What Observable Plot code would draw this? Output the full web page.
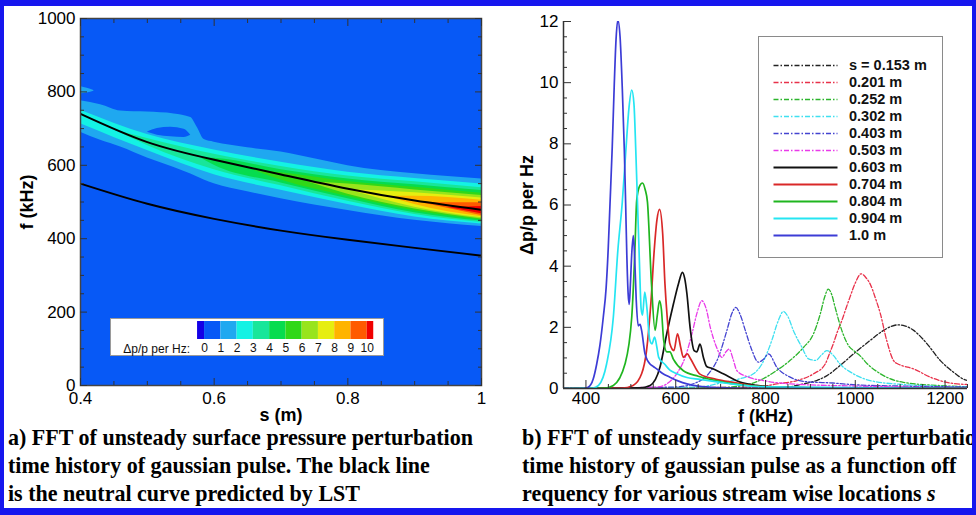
<!DOCTYPE html>
<html><head><meta charset="utf-8">
<script src="https://cdn.jsdelivr.net/npm/d3@7"></script>
<script src="https://cdn.jsdelivr.net/npm/@observablehq/plot@0.6"></script>
<style>
body{margin:0;background:#fff;}
#wrap{position:relative;width:976px;height:515px;overflow:hidden;background:#fff;font-family:"Liberation Sans",Arial,sans-serif;}
.abs{position:absolute;}
#border{position:absolute;left:0;top:0;width:976px;height:515px;box-sizing:border-box;border-style:solid;border-color:#1616ee;border-width:6px 4px 7px 4px;pointer-events:none;}
.cap{position:absolute;font-family:"Liberation Serif","Times New Roman",serif;font-weight:bold;font-size:23px;line-height:28px;white-space:nowrap;color:#000;transform-origin:0 0;}
.cap div{white-space:nowrap;}
svg{overflow:visible;}
</style>
</head><body>
<div id="wrap">
  <div id="left" class="abs" style="left:0;top:0"></div>
  <div id="right" class="abs" style="left:490px;top:0"></div>
  <div id="cbar" class="abs" style="left:110px;top:318px;width:272px;height:36px;border:1px solid #9a9a9a;background:#fff"></div>
  <div id="cblabel" class="abs" style="left:90px;top:341px;width:100px;text-align:right;font-size:12px;line-height:16px;color:#111">Δp/p per Hz:</div>
  <div id="legend" class="abs" style="left:758px;top:36px;width:183px;height:220px;border:1.5px solid #8a8a8a;background:#fff"></div>
  <div id="capA" class="cap" style="left:8px;top:424px">
    <div><span id="capA1">a) FFT of unsteady surface pressure perturbation</span></div>
    <div>time history of gaussian pulse. The black line</div>
    <div>is the neutral curve predicted by LST</div>
  </div>
  <div id="capB" class="cap" style="left:522px;top:424px">
    <div>b) FFT of unsteady surface pressure perturbation</div>
    <div>time history of gaussian pulse as a function off</div>
    <div>requency for various stream wise locations <i>s</i></div>
  </div>
  <div id="border"></div>
</div>
<script>
// ---------------- Left panel data ----------------
const S_TICKS = [0.4, 0.6, 0.8, 1];
const S_MINOR = [0.45, 0.5, 0.55, 0.65, 0.7, 0.75, 0.85, 0.9, 0.95];
const F_TICKS = [0, 200, 400, 600, 800, 1000];
const F_MINOR = [50, 100, 150, 250, 300, 350, 450, 500, 550, 650, 700, 750, 850, 900, 950];

const neutralS = [0.4, 0.5, 0.6, 0.7, 0.8, 0.9, 1.0];
const neutralUpperF = [740, 663, 615, 575, 536, 504, 479];
const neutralLowerF = [550, 495, 454, 422, 397, 375, 354];

const levelThresholds = [0, 1, 2, 3, 4, 5, 6, 7, 8, 9, 10];
const levelColors = ["#1400e6", "#0759f6", "#1fa8f0", "#14f2e4", "#18e69a", "#06dc4e", "#30d818", "#98e41c", "#e6ee10", "#ffb400", "#ff5a00", "#f00000"];

// contour bands (lower / upper edge of each level, kHz) read along s
const lev1S  = [0.4, 0.43, 0.46, 0.5, 0.54, 0.565, 0.575, 0.585, 0.6, 0.65, 0.7, 0.75, 0.8, 0.9, 1.0];
const lev1Hi = [776, 765, 748, 745, 740, 730, 702, 670, 663, 648, 636, 618, 599, 577, 563];
const lev1Lo = [690, 668, 650, 620, 594, 576, 568, 560, 550, 528, 509, 492, 477, 450, 433];
const holeS  = [0.5, 0.515, 0.535, 0.555, 0.565];
const holeHi = [690, 700, 704, 698, 682];
const holeLo = [690, 682, 678, 676, 682];
const blobS  = [0.4, 0.41, 0.42];
const blobHi = [815, 810, 804];
const blobLo = [795, 797, 802];
const lev2S  = [0.4, 0.5, 0.6, 0.7, 0.8, 0.9, 1.0];
const lev2Hi = [750, 684, 642, 608, 581, 564, 549];
const lev2Lo = [713, 640, 574, 532, 493, 459, 440];
const lev3S  = [0.45, 0.5, 0.6, 0.7, 0.8, 0.9, 1.0];
const lev3Hi = [697, 673, 630, 597, 571, 555, 539];
const lev3Lo = [697, 654, 588, 544, 502, 466, 444];
const lev4S  = [0.58, 0.6, 0.7, 0.8, 0.9, 1.0];
const lev4Hi = [620, 619, 588, 563, 547, 531];
const lev4Lo = [620, 600, 552, 509, 471, 448];
const lev5S  = [0.66, 0.7, 0.8, 0.9, 1.0];
const lev5Hi = [586, 580, 556, 540, 524];
const lev5Lo = [586, 560, 515, 476, 451];
const lev6S  = [0.74, 0.8, 0.9, 1.0];
const lev6Hi = [555, 549, 533, 518];
const lev6Lo = [555, 521, 481, 454];
const lev7S  = [0.8, 0.9, 1.0];
const lev7Hi = [534, 525, 511];
const lev7Lo = [534, 486, 457];
const lev8S  = [0.86, 0.9, 1.0];
const lev8Hi = [515, 516, 505];
const lev8Lo = [515, 493, 460];
const lev9S  = [0.91, 1.0];
const lev9Hi = [498, 498];
const lev9Lo = [498, 463];
const lev10S  = [0.95, 1.0];
const lev10Hi = [485, 488];
const lev10Lo = [485, 468];

// colour bar segments
const cbarLo = [-0.43, 0, 1, 2, 3, 4, 5, 6, 7, 8, 9, 10];
const cbarHi = [0, 1, 2, 3, 4, 5, 6, 7, 8, 9, 10, 10.4];
const CBAR_TICKS = [0, 1, 2, 3, 4, 5, 6, 7, 8, 9, 10];

// ---------------- Right panel data ----------------
const FK_TICKS = [400, 600, 800, 1000, 1200];
const FK_MINOR = [350, 450, 500, 550, 650, 700, 750, 850, 900, 950, 1050, 1100, 1150, 1250];
const A_TICKS = [0, 2, 4, 6, 8, 10, 12];
const A_MINOR = [0.5, 1, 1.5, 2.5, 3, 3.5, 4.5, 5, 5.5, 6.5, 7, 7.5, 8.5, 9, 9.5, 10.5, 11, 11.5];

const seriesLabels = ["s = 0.153 m", "0.201 m", "0.252 m", "0.302 m", "0.403 m", "0.503 m", "0.603 m", "0.704 m", "0.804 m", "0.904 m", "1.0 m"];
const seriesColors = ["#222222", "#e8314a", "#2cb52c", "#3fe0f0", "#4343d0", "#e93ae9", "#111111", "#d92828", "#1fb51f", "#25e5f2", "#3c3cd6"];
const seriesDashed = [true, true, true, true, true, true, false, false, false, false, false];

const s0153_f = [350, 800, 850, 870, 890, 914, 937, 966, 996, 1033, 1063, 1080, 1094, 1110, 1130, 1160, 1189, 1219, 1245, 1250];
const s0153_v = [0, 0.02, 0.05, 0.1, 0.17, 0.26, 0.42, 0.75, 1.13, 1.57, 1.9, 2.03, 2.08, 2.05, 1.9, 1.46, 0.92, 0.53, 0.28, 0.26];
const s0201_f = [350, 780, 825, 870, 907, 933, 944, 951, 960, 970, 980, 988, 1000, 1013, 1025, 1033, 1045, 1056, 1070, 1085, 1095, 1104, 1130, 1167, 1204, 1250];
const s0201_v = [0, 0.05, 0.15, 0.26, 0.48, 0.8, 1.2, 1.46, 1.85, 2.22, 2.65, 2.98, 3.45, 3.75, 3.6, 3.42, 2.95, 2.44, 1.57, 0.92, 0.8, 0.75, 0.64, 0.37, 0.2, 0.13];
const s0252_f = [350, 700, 766, 795, 825, 855, 885, 907, 922, 932, 940, 948, 955, 970, 985, 1000, 1012, 1026, 1056, 1107, 1182, 1250];
const s0252_v = [0, 0.03, 0.15, 0.32, 0.59, 0.92, 1.35, 1.79, 2.44, 3.0, 3.25, 3.05, 2.66, 1.9, 1.4, 1.2, 1.05, 0.82, 0.48, 0.2, 0.1, 0.06];
const s0302_f = [350, 650, 706, 743, 773, 792, 814, 828, 840, 850, 862, 881, 896, 912, 925, 937, 950, 966, 996, 1033, 1107, 1250];
const s0302_v = [0, 0.05, 0.2, 0.32, 0.48, 0.8, 1.57, 2.2, 2.52, 2.35, 1.9, 1.35, 0.97, 0.92, 1.1, 1.24, 1.1, 0.8, 0.48, 0.26, 0.13, 0.05];
const s0403_f = [350, 600, 647, 673, 695, 714, 725, 734, 744, 755, 770, 784, 795, 807, 825, 855, 892, 950, 1000, 1100, 1250];
const s0403_v = [0, 0.05, 0.2, 0.48, 1.02, 1.9, 2.45, 2.65, 2.4, 1.9, 1.24, 0.86, 0.95, 1.13, 0.7, 0.37, 0.22, 0.18, 0.12, 0.08, 0.05];
const s0503_f = [350, 560, 580, 602, 621, 636, 648, 658, 668, 677, 691, 703, 712, 719, 728, 736, 762, 795, 855, 1000, 1100, 1250];
const s0503_v = [0, 0.05, 0.15, 0.48, 1.02, 1.78, 2.5, 2.87, 2.6, 2.0, 1.35, 1.02, 1.2, 1.29, 0.95, 0.59, 0.37, 0.26, 0.15, 0.08, 0.05, 0.03];
const s0603_f = [350, 520, 543, 565, 580, 595, 606, 615, 620, 625, 632, 641, 647, 654, 662, 669, 680, 706, 743, 780, 817, 900, 1250];
const s0603_v = [0, 0.02, 0.1, 0.7, 1.79, 2.77, 3.42, 3.8, 3.6, 3.09, 2.0, 1.24, 1.2, 1.45, 1.0, 0.72, 0.66, 0.48, 0.21, 0.1, 0.05, 0.02, 0];
const s0704_f = [350, 480, 505, 524, 535, 545, 552, 558, 564, 571, 576, 581, 587, 596, 604, 611, 617, 626, 632, 654, 690, 728, 802, 900, 1250];
const s0704_v = [0, 0.01, 0.1, 0.48, 1.24, 2.87, 4.5, 5.5, 5.86, 5.05, 3.42, 2.33, 1.46, 1.24, 1.79, 1.35, 1.02, 1.13, 1.0, 0.47, 0.3, 0.2, 0.05, 0.02, 0];
const s0804_f = [350, 440, 461, 487, 502, 509, 513, 519, 526, 532, 537, 546, 554, 559, 564, 568, 573, 580, 587, 595, 617, 650, 691, 766, 850, 1250];
const s0804_v = [0, 0.01, 0.1, 0.8, 2.33, 4.5, 6.14, 6.6, 6.72, 6.5, 6.1, 3.42, 1.9, 2.4, 2.87, 2.6, 1.6, 1.2, 1.2, 0.95, 0.58, 0.4, 0.25, 0.09, 0.03, 0];
const s0904_f = [350, 415, 428, 446, 461, 471, 481, 489, 496, 502, 507, 511, 515, 519, 523, 526, 531, 536, 542, 547, 553, 558, 562, 575, 587, 600, 625, 654, 700, 728, 800, 1250];
const s0904_v = [0, 0.01, 0.1, 0.8, 2.33, 4.5, 6.1, 7.8, 9.2, 9.76, 9.3, 7.8, 6.0, 4.2, 2.6, 2.4, 3.15, 2.6, 1.6, 1.46, 1.68, 1.35, 1.02, 0.8, 0.6, 0.5, 0.36, 0.3, 0.2, 0.14, 0.05, 0];
const s1000_f = [350, 395, 405, 416, 424, 431, 438.6, 445, 449.7, 453.5, 458.6, 463, 467, 471, 476, 481, 485.5, 488.5, 491, 494, 496.5, 499, 502, 505.5, 508.5, 512, 516.5, 520.5, 524, 531.5, 537, 542.7, 550, 557.6, 570, 587, 605, 625, 650, 700, 800, 1250];
const s1000_v = [0, 0, 0.04, 0.3, 0.8, 1.4, 2.33, 3.3, 4.6, 6.0, 7.9, 9.9, 11.4, 12.05, 11.5, 9.8, 7.8, 6.0, 4.4, 3.1, 2.75, 3.4, 4.4, 5.0, 4.3, 2.9, 2.05, 2.1, 1.9, 1.14, 0.92, 0.8, 0.72, 0.64, 0.5, 0.37, 0.25, 0.15, 0.08, 0.03, 0, 0];

const seriesF = [s0153_f, s0201_f, s0252_f, s0302_f, s0403_f, s0503_f, s0603_f, s0704_f, s0804_f, s0904_f, s1000_f];
const seriesV = [s0153_v, s0201_v, s0252_v, s0302_v, s0403_v, s0503_v, s0603_v, s0704_v, s0804_v, s0904_v, s1000_v];

// ---------------- build tables ----------------
const bandDefs = [
  {key: "L1", level: 1, s: lev1S, lo: lev1Lo, hi: lev1Hi},
  {key: "hole", level: 0, s: holeS, lo: holeLo, hi: holeHi},
  {key: "blob", level: 1, s: blobS, lo: blobLo, hi: blobHi},
  {key: "L2", level: 2, s: lev2S, lo: lev2Lo, hi: lev2Hi},
  {key: "L3", level: 3, s: lev3S, lo: lev3Lo, hi: lev3Hi},
  {key: "L4", level: 4, s: lev4S, lo: lev4Lo, hi: lev4Hi},
  {key: "L5", level: 5, s: lev5S, lo: lev5Lo, hi: lev5Hi},
  {key: "L6", level: 6, s: lev6S, lo: lev6Lo, hi: lev6Hi},
  {key: "L7", level: 7, s: lev7S, lo: lev7Lo, hi: lev7Hi},
  {key: "L8", level: 8, s: lev8S, lo: lev8Lo, hi: lev8Hi},
  {key: "L9", level: 9, s: lev9S, lo: lev9Lo, hi: lev9Hi},
  {key: "L10", level: 10, s: lev10S, lo: lev10Lo, hi: lev10Hi}
];
const bandRows = bandDefs.flatMap(b => b.s.map((s, i) => ({key: b.key, level: b.level, s, lo: b.lo[i], hi: b.hi[i]})));
const neutralRows = neutralS.flatMap((s, i) => [
  {curve: "upper", s, f: neutralUpperF[i]},
  {curve: "lower", s, f: neutralLowerF[i]}
]);
const cbarRows = cbarLo.map((lo, i) => ({lo, hi: cbarHi[i], color: levelColors[i]}));

const specRows = seriesLabels.flatMap((label, k) => seriesF[k].map((f, i) => ({label, dashed: seriesDashed[k], f, v: seriesV[k][i]})));

const FONT = '"Liberation Sans", Arial, Helvetica, sans-serif';
const fmt = d => String(d);
const DASH = "5,2,1.5,2";

// ---------------- left plot ----------------
const leftPlot = Plot.plot({
  width: 490, height: 425,
  marginLeft: 80, marginRight: 9, marginTop: 18, marginBottom: 40,
  x: {domain: [0.4, 1.0]},
  y: {domain: [0, 1000]},
  color: {type: "threshold", domain: levelThresholds, range: levelColors},
  style: {fontFamily: FONT, fontSize: "17px", color: "#000", background: "transparent"},
  marks: [
    Plot.frame({fill: levelColors[1]}),
    Plot.areaY(bandRows, {x: "s", y1: "lo", y2: "hi", z: "key", fill: "level", curve: "monotone-x", clip: true}),
    Plot.line(neutralRows, {x: "s", y: "f", z: "curve", stroke: "#000", strokeWidth: 2, curve: "natural", clip: true}),
    Plot.frame({stroke: "#444", strokeWidth: 1.5}),
    Plot.axisX(S_TICKS, {anchor: "bottom", tickSize: 0, tickPadding: 6, tickFormat: fmt, label: null}),
    Plot.axisX(S_TICKS, {anchor: "bottom", tickSize: -7, fill: "none", stroke: "#333", label: null}),
    Plot.axisX(S_MINOR, {anchor: "bottom", tickSize: -4, fill: "none", stroke: "#333", label: null}),
    Plot.axisX(S_TICKS, {anchor: "top", tickSize: -7, fill: "none", stroke: "#333", label: null}),
    Plot.axisX(S_MINOR, {anchor: "top", tickSize: -4, fill: "none", stroke: "#333", label: null}),
    Plot.axisY(F_TICKS, {anchor: "left", tickSize: 0, tickPadding: 5, tickFormat: fmt, label: null}),
    Plot.axisY(F_TICKS, {anchor: "left", tickSize: -7, fill: "none", stroke: "#333", label: null}),
    Plot.axisY(F_MINOR, {anchor: "left", tickSize: -4, fill: "none", stroke: "#333", label: null}),
    Plot.axisY(F_TICKS, {anchor: "right", tickSize: -7, fill: "none", stroke: "#333", label: null}),
    Plot.axisY(F_MINOR, {anchor: "right", tickSize: -4, fill: "none", stroke: "#333", label: null}),
    Plot.text(["f (kHz)"], {frameAnchor: "left", dx: -53, rotate: -90, textAnchor: "middle", lineAnchor: "middle", fontWeight: "bold", fontSize: 18}),
    Plot.text(["s (m)"], {frameAnchor: "bottom", dy: 30, textAnchor: "middle", lineAnchor: "middle", fontWeight: "bold", fontSize: 18})
  ]
});
document.getElementById("left").appendChild(leftPlot);

// ---------------- colour bar ----------------
const cbarPlot = Plot.plot({
  width: 272, height: 36,
  marginLeft: 0, marginRight: 0, marginTop: 2, marginBottom: 16,
  x: {domain: [-5.72, 11.0]},
  style: {fontFamily: FONT, fontSize: "12px", color: "#111", background: "transparent"},
  marks: [
    Plot.rect(cbarRows, {x1: "lo", x2: "hi", fill: d => d.color}),
    Plot.axisX(CBAR_TICKS, {anchor: "bottom", tickSize: 0, tickPadding: 4, tickFormat: fmt, label: null})
  ]
});
document.getElementById("cbar").appendChild(cbarPlot);

// ---------------- right plot ----------------
const rightPlot = Plot.plot({
  width: 486, height: 425,
  marginLeft: 73, marginRight: 9, marginTop: 21, marginBottom: 37,
  x: {domain: [350, 1250]},
  y: {domain: [0, 12]},
  color: {domain: seriesLabels, range: seriesColors},
  style: {fontFamily: FONT, fontSize: "17px", color: "#000", background: "transparent"},
  marks: [
    Plot.line(specRows.filter(d => d.dashed), {x: "f", y: "v", z: "label", stroke: "label", strokeWidth: 1.3, strokeDasharray: DASH, curve: "monotone-x", clip: true}),
    Plot.line(specRows.filter(d => !d.dashed), {x: "f", y: "v", z: "label", stroke: "label", strokeWidth: 1.7, curve: "monotone-x", clip: true}),
    Plot.ruleY([0], {stroke: "#333", strokeWidth: 1.5}),
    Plot.ruleX([350], {stroke: "#333", strokeWidth: 1.5}),
    Plot.axisX(FK_TICKS, {anchor: "bottom", tickSize: 0, tickPadding: 3, tickFormat: fmt, label: null}),
    Plot.axisX(FK_TICKS, {anchor: "bottom", tickSize: -8, fill: "none", stroke: "#333", label: null}),
    Plot.axisX(FK_MINOR, {anchor: "bottom", tickSize: -4, fill: "none", stroke: "#333", label: null}),
    Plot.axisY(A_TICKS, {anchor: "left", tickSize: 0, tickPadding: 5, tickFormat: fmt, label: null}),
    Plot.axisY(A_TICKS, {anchor: "left", tickSize: -8, fill: "none", stroke: "#333", label: null}),
    Plot.axisY(A_MINOR, {anchor: "left", tickSize: -4, fill: "none", stroke: "#333", label: null}),
    Plot.text(["Δp/p per Hz"], {frameAnchor: "left", dx: -36, rotate: -90, textAnchor: "middle", lineAnchor: "middle", fontWeight: "bold", fontSize: 18}),
    Plot.text(["f (kHz)"], {frameAnchor: "bottom", dy: 28, textAnchor: "middle", lineAnchor: "middle", fontWeight: "bold", fontSize: 18})
  ]
});
document.getElementById("right").appendChild(rightPlot);

// ---------------- legend ----------------
const legendPlot = Plot.plot({
  width: 183, height: 220, margin: 0,
  x: {domain: [0, 1], range: [14.5, 78.5], axis: null},
  y: {type: "point", domain: seriesLabels, range: [26.5, 199.5], padding: 0, axis: null},
  color: {domain: seriesLabels, range: seriesColors},
  style: {fontFamily: FONT, fontSize: "14px", color: "#111", background: "transparent"},
  marks: [
    Plot.ruleY(seriesLabels.filter((d, i) => seriesDashed[i]), {y: d => d, x1: 0, x2: 1, stroke: d => d, strokeWidth: 1.3, strokeDasharray: DASH}),
    Plot.ruleY(seriesLabels.filter((d, i) => !seriesDashed[i]), {y: d => d, x1: 0, x2: 1, stroke: d => d, strokeWidth: 1.8}),
    Plot.text(seriesLabels, {y: d => d, x: 1, dx: 11, textAnchor: "start", fontWeight: "bold", fontSize: 14.5})
  ]
});
document.getElementById("legend").appendChild(legendPlot);

// ---------------- fit captions ----------------
const w = document.getElementById("capA1").getBoundingClientRect().width;
const k = 465 / w;
document.getElementById("capA").style.transform = `scaleX(${k})`;
document.getElementById("capB").style.transform = `scaleX(${k})`;
</script>
</body></html>
